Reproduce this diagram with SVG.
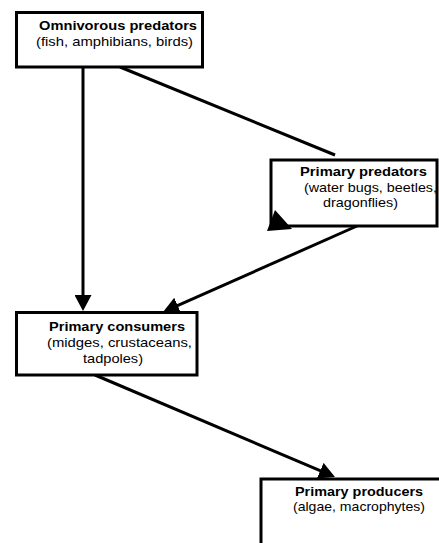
<svg xmlns="http://www.w3.org/2000/svg" width="439" height="543" viewBox="0 0 439 543">
<defs>
<style>
.box{fill:#fff;stroke:#000;stroke-width:3}
.t{font-family:"Liberation Sans",Arial,Helvetica,sans-serif;font-size:13px;fill:#000}
.b{font-weight:bold}
.c{fill:none;stroke:#000;stroke-width:3}
</style>
<marker id="ah" markerUnits="userSpaceOnUse" markerWidth="17" markerHeight="17" refX="12" refY="8.5" orient="auto" viewBox="0 0 17 17">
<path d="M0,0 L16,8.5 L0,17 z" fill="#000"/>
</marker>
</defs>
<rect width="439" height="543" fill="#fff"/>
<g id="connectors">
<line class="c" x1="83" y1="67" x2="83" y2="307" marker-end="url(#ah)"/>
<line class="c" x1="120" y1="67" x2="335" y2="155"/>
<line class="c" x1="357" y1="226" x2="166.7" y2="310.4" marker-end="url(#ah)"/>
<line class="c" x1="95" y1="375" x2="331.3" y2="475.4" marker-end="url(#ah)"/>
</g>
<g id="omnivorous">
<rect class="box" x="16.5" y="12.5" width="186" height="54.5"/>
<text class="t b" x="39" y="30" textLength="158" lengthAdjust="spacingAndGlyphs">Omnivorous predators</text>
<text class="t" x="36" y="45.5" textLength="157" lengthAdjust="spacingAndGlyphs">(fish, amphibians, birds)</text>
</g>
<g id="primary-predators">
<rect class="box" x="271" y="160" width="166" height="66"/>
<text class="t b" x="300" y="176" textLength="127" lengthAdjust="spacingAndGlyphs">Primary predators</text>
<text class="t" x="304" y="191.7" textLength="133" lengthAdjust="spacingAndGlyphs">(water bugs, beetles,</text>
<text class="t" x="323" y="207.3" textLength="75" lengthAdjust="spacingAndGlyphs">dragonflies)</text>
</g>
<polygon points="267,231 275,210 292,229" fill="#000"/>
<g id="primary-consumers">
<rect class="box" x="16.5" y="312.5" width="180.5" height="62.5"/>
<text class="t b" x="49" y="330.7" textLength="136" lengthAdjust="spacingAndGlyphs">Primary consumers</text>
<text class="t" x="47" y="346.7" textLength="145" lengthAdjust="spacingAndGlyphs">(midges, crustaceans,</text>
<text class="t" x="83" y="363" textLength="60" lengthAdjust="spacingAndGlyphs">tadpoles)</text>
</g>
<g id="primary-producers">
<rect class="box" x="261" y="479" width="200" height="100"/>
<text class="t b" x="295" y="495.7" textLength="128" lengthAdjust="spacingAndGlyphs">Primary producers</text>
<text class="t" x="293" y="510.5" textLength="132" lengthAdjust="spacingAndGlyphs">(algae, macrophytes)</text>
</g>
</svg>
